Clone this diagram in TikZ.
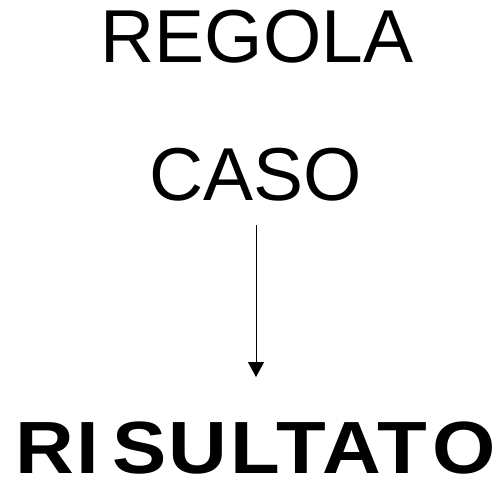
\documentclass[tikz,border=0pt]{standalone}
\usepackage{fontspec}
\setmainfont{Liberation Sans}
\usetikzlibrary{arrows.meta}
\tikzset{
  word/.style={anchor=base, inner sep=0pt, font=\fontsize{75}{80}\selectfont},
  bigword/.style={anchor=base west, inner sep=0pt, font=\fontsize{74}{80}\selectfont\bfseries\addfontfeatures{LetterSpace=3}},
  flow/.style={line width=1pt, -{Triangle[width=16pt,length=15pt]}}
}
\begin{document}
\begin{tikzpicture}[x=1pt,y=-1pt]
\useasboundingbox (0,0) rectangle (500,479);
\node[word] (regola) at (257,62) {REGOLA};
\node[word] (caso) at (256,200) {CASO};
\node[bigword] (risultato) at (15,473) {\scalebox{1.1}[1]{RI\kern12pt SULTAT\kern5pt O}};
\coordinate (a1) at (256,225);
\coordinate (a2) at (256,377);
\draw[flow] (a1) -- (a2);
\end{tikzpicture}
\end{document}
